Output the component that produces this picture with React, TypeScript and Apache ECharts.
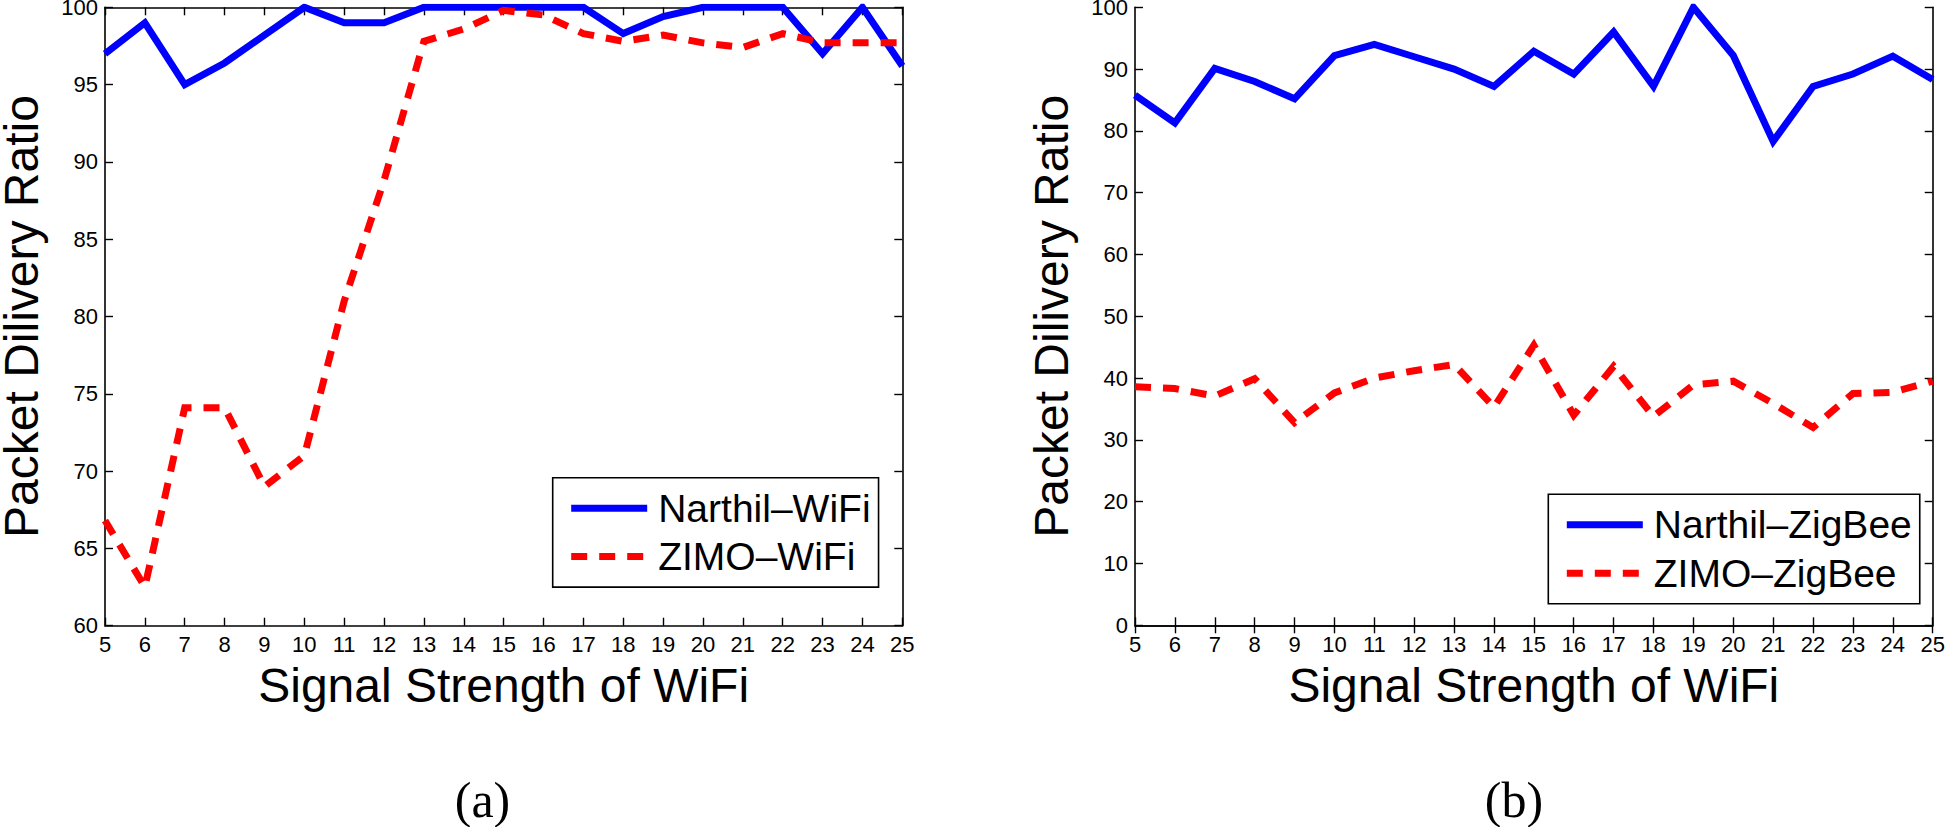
import React, { useEffect, useRef } from "react";
import * as echarts from "echarts";

const signalStrength = [5, 6, 7, 8, 9, 10, 11, 12, 13, 14, 15, 16, 17, 18, 19, 20, 21, 22, 23, 24, 25];

const narthilWifi = [97.0, 99.0, 95.0, 96.4, 98.2, 100, 99.0, 99.0, 100, 100, 100, 100, 100, 98.3, 99.4, 100, 100, 100, 97.0, 100, 96.2];
const zimoWifi = [66.8, 62.5, 74.1, 74.1, 69.0, 71.0, 81.0, 88.8, 97.8, 98.6, 99.8, 99.5, 98.3, 97.8, 98.2, 97.7, 97.4, 98.3, 97.7, 97.7, 97.7];

const narthilZigbee = [85.8, 81.3, 90.1, 88.0, 85.2, 92.2, 94.0, 92.0, 90.0, 87.2, 92.9, 89.2, 96.0, 87.2, 100, 92.2, 78.3, 87.2, 89.2, 92.1, 88.3];
const zimoZigbee = [38.6, 38.3, 37.1, 39.9, 32.8, 37.6, 40.0, 41.2, 42.2, 35.3, 45.3, 34.0, 41.9, 33.8, 38.9, 39.5, 35.9, 32.0, 37.5, 37.7, 39.5];

const seriesNames = ["Narthil–WiFi", "ZIMO–WiFi", "Narthil–ZigBee", "ZIMO–ZigBee"];
const xTitle = "Signal Strength of WiFi";
const yTitle = "Packet Dilivery Ratio";
const panelLabels = ["(a)", "(b)"];

const SANS = "'Liberation Sans', Arial, Helvetica, sans-serif";
const SERIF = "'Liberation Serif', 'DejaVu Serif', serif";

function pairs(xs: number[], ys: number[]) {
  return xs.map((x, i) => [x, ys[i]]);
}

export default function App() {
  const ref = useRef<HTMLDivElement>(null);

  useEffect(() => {
    if (!ref.current) return;
    const chart = echarts.init(ref.current, null, { renderer: "svg" });

    const grids = [
      { left: 105, top: 7.3, width: 797.3, height: 618.4 },
      { left: 1135, top: 7.3, width: 797.7, height: 618 },
    ];

    const axisLine = { show: true, lineStyle: { color: "#000", width: 1.6 } };
    const axisTick = { show: true, inside: true, length: 8, lineStyle: { color: "#000", width: 1.4 } };
    const labelStyle = { color: "#000", fontFamily: SANS, fontSize: 22 };

    const makeX = (gi: number, top: boolean) => ({
      type: "value",
      gridIndex: gi,
      position: top ? "top" : "bottom",
      min: 5,
      max: 25,
      interval: 1,
      axisLine,
      axisTick,
      splitLine: { show: false },
      axisLabel: top ? { show: false } : { ...labelStyle, margin: 8 },
      name: top ? "" : xTitle,
      nameLocation: "middle",
      nameGap: 36,
      nameMoveOverlap: false,
      nameTextStyle: { color: "#000", fontFamily: SANS, fontSize: 48 },
    });

    const makeY = (gi: number, right: boolean, min: number, interval: number) => ({
      type: "value",
      gridIndex: gi,
      position: right ? "right" : "left",
      min,
      max: 100,
      interval,
      axisLine,
      axisTick,
      splitLine: { show: false },
      axisLabel: right ? { show: false } : { ...labelStyle, lineHeight: 14, margin: 7 },
      name: right ? "" : yTitle,
      nameLocation: "middle",
      nameGap: 64,
      nameMoveOverlap: false,
      nameTextStyle: { color: "#000", fontFamily: SANS, fontSize: 48, lineHeight: 40 },
    });

    const blueStyle = { color: "#0000ff", width: 7, type: "solid", join: "miter" };
    const redStyle = { color: "#ff0000", width: 7, type: [16, 12], join: "miter", cap: "butt" };

    const mkSeries = (name: string, data: number[], xi: number, yi: number, ls: any) => ({
      type: "line",
      name,
      xAxisIndex: xi,
      yAxisIndex: yi,
      data: pairs(signalStrength, data),
      symbol: "none",
      showSymbol: false,
      color: ls.color,
      lineStyle: ls,
      z: name.startsWith("ZIMO") ? 3 : 2,
    });

    const mkLegend = (names: string[], left: number, top: number) => ({
      show: true,
      data: names,
      orient: "vertical",
      left,
      top,
      itemWidth: 76,
      itemHeight: 14,
      itemGap: 9.4,
      padding: [11, 8, 11, 15],
      borderColor: "#000",
      borderWidth: 1.6,
      backgroundColor: "#fff",
      selectedMode: false,
      lineStyle: { width: 7 },
      itemStyle: { opacity: 0, borderWidth: 0 },
      textStyle: { color: "#000", fontFamily: SANS, fontSize: 39, lineHeight: 39, padding: [0, 0, 0, 6] },
    });

    chart.setOption({
      animation: false,
      backgroundColor: "#fff",
      grid: grids.map((g) => ({ ...g, containLabel: false, outerBoundsMode: "none", show: false })),
      xAxis: [makeX(0, false), makeX(0, true), makeX(1, false), makeX(1, true)],
      yAxis: [makeY(0, false, 60, 5), makeY(0, true, 60, 5), makeY(1, false, 0, 10), makeY(1, true, 0, 10)],
      legend: [
        mkLegend([seriesNames[0], seriesNames[1]], 552.7, 477.7),
        mkLegend([seriesNames[2], seriesNames[3]], 1548.3, 494.3),
      ],
      series: [
        mkSeries(seriesNames[0], narthilWifi, 0, 0, blueStyle),
        mkSeries(seriesNames[1], zimoWifi, 0, 0, redStyle),
        mkSeries(seriesNames[2], narthilZigbee, 2, 2, blueStyle),
        mkSeries(seriesNames[3], zimoZigbee, 2, 2, redStyle),
      ],
      graphic: [
        {
          type: "text",
          x: 482.5,
          y: 800,
          style: { text: panelLabels[0], fontFamily: SERIF, fontSize: 50, fill: "#000", align: "center", verticalAlign: "middle" },
        },
        {
          type: "text",
          x: 1514,
          y: 800,
          style: { text: panelLabels[1], fontFamily: SERIF, fontSize: 50, fill: "#000", align: "center", verticalAlign: "middle" },
        },
      ],
    } as any);

    return () => chart.dispose();
  }, []);

  return (
    <div
      ref={ref}
      style={{ position: "absolute", left: 0, top: 0, width: 1946, height: 827, background: "#fff" }}
    />
  );
}
